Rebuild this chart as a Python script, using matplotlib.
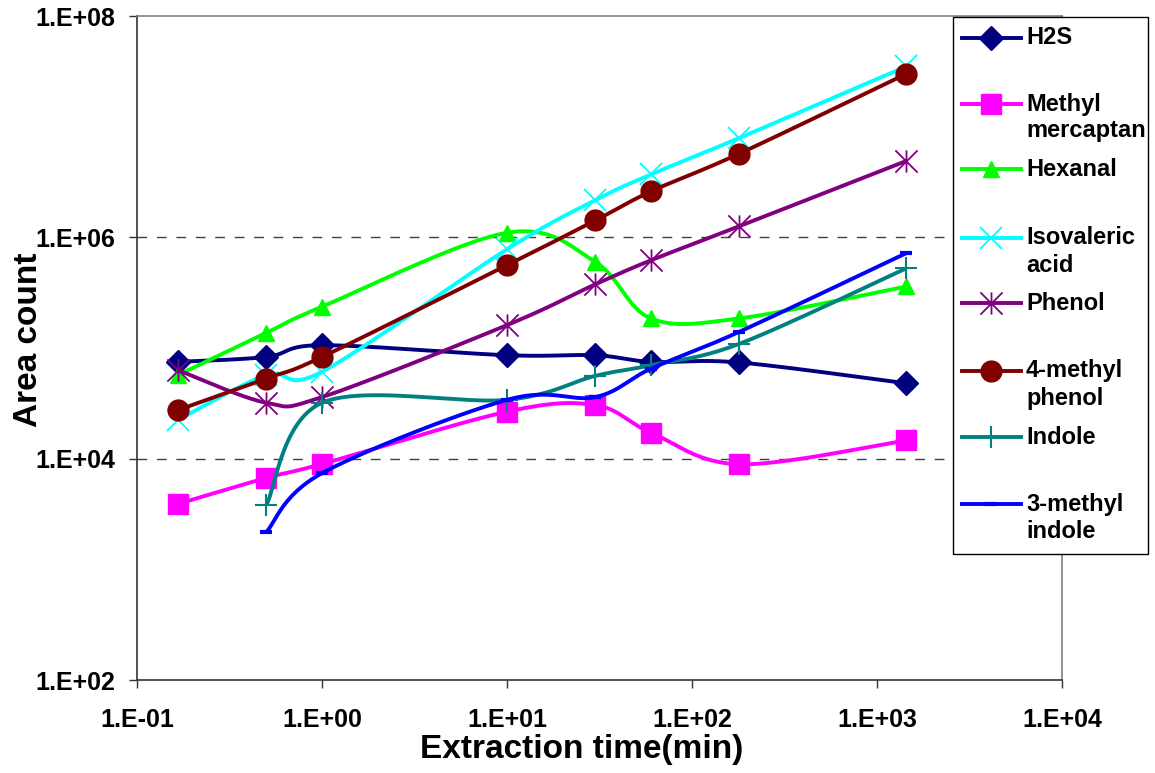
import numpy as np
import matplotlib
matplotlib.use("Agg")
import matplotlib.pyplot as plt
from matplotlib.path import Path
from matplotlib.lines import Line2D
from matplotlib.patches import Rectangle

plt.rcParams['font.family'] = ['Liberation Sans', 'DejaVu Sans']
plt.rcParams['font.weight'] = 'bold'

# extraction times (min)
times = [1 / 6, 0.5, 1, 10, 30, 60, 180, 1440]

# area counts
h2s = [7.5e4, 8.3e4, 1.06e5, 8.6e4, 8.6e4, 7.5e4, 7.4e4, 4.8e4]
methyl_mercaptan = [3.9e3, 6.7e3, 8.95e3, 2.66e4, 3.05e4, 1.72e4, 8.9e3, 1.46e4]
hexanal = [5.7e4, 1.37e5, 2.36e5, 1.10e6, 6.0e5, 1.85e5, 1.85e5, 3.6e5]
isovaleric_acid = [2.24e4, 5.7e4, 6.1e4, 7.8e5, 2.17e6, 3.7e6, 7.9e6, 3.5e7]
phenol = [6.3e4, 3.2e4, 3.6e4, 1.61e5, 3.76e5, 6.2e5, 1.26e6, 4.9e6]
methyl_phenol = [2.75e4, 5.3e4, 8.3e4, 5.6e5, 1.42e6, 2.6e6, 5.7e6, 3.0e7]
indole = [None, 3.8e3, 3.2e4, 3.4e4, 5.6e4, 7.0e4, 1.09e5, 5.25e5]
methyl_indole = [None, 2.17e3, 7.4e3, 3.4e4, 3.6e4, 6.5e4, 1.4e5, 7.2e5]

labels = ['H2S', 'Methyl\nmercaptan', 'Hexanal', 'Isovaleric\nacid', 'Phenol',
          '4-methyl\nphenol', 'Indole', '3-methyl\nindole']
series = [h2s, methyl_mercaptan, hexanal, isovaleric_acid, phenol,
          methyl_phenol, indole, methyl_indole]
colors = ['#000080', '#FF00FF', '#00FF00', '#00FFFF', '#800080',
          '#800000', '#008080', '#0000FF']

x_ticks = [1e-1, 1e0, 1e1, 1e2, 1e3, 1e4]
x_ticklabels = ['1.E-01', '1.E+00', '1.E+01', '1.E+02', '1.E+03', '1.E+04']
y_ticks = [1e2, 1e4, 1e6, 1e8]
y_ticklabels = ['1.E+02', '1.E+04', '1.E+06', '1.E+08']

# asterisk marker like excel's "star": vertical bar plus an x
star = Path([(0, -1), (0, 1), (-1, -1), (1, 1), (-1, 1), (1, -1)],
            [Path.MOVETO, Path.LINETO, Path.MOVETO, Path.LINETO, Path.MOVETO, Path.LINETO])

marker_styles = [
    dict(marker='D', markersize=12),
    dict(marker='s', markersize=14),
    dict(marker='^', markersize=11),
    dict(marker='x', markersize=16, markeredgewidth=1.3),
    dict(marker=star, markersize=16, markeredgewidth=1.3),
    dict(marker='o', markersize=15),
    dict(marker='+', markersize=16, markeredgewidth=1.5),
    dict(marker='_', markersize=8, markeredgewidth=3),
]


def smooth(xs, ys, n=24):
    # excel-like smoothed line: bezier segments, done in log space
    lx = np.log10(xs)
    ly = np.log10(ys)
    pts = np.column_stack([lx, ly])
    out = [pts[0]]
    for i in range(len(pts) - 1):
        p0 = pts[max(i - 1, 0)]
        p1 = pts[i]
        p2 = pts[i + 1]
        p3 = pts[min(i + 2, len(pts) - 1)]
        c1 = p1 + (p2 - p0) / 6
        c2 = p2 - (p3 - p1) / 6
        t = np.linspace(0, 1, n)[1:, None]
        seg = ((1 - t) ** 3) * p1 + 3 * ((1 - t) ** 2) * t * c1 + 3 * (1 - t) * t ** 2 * c2 + t ** 3 * p2
        out.extend(seg)
    out = np.array(out)
    return 10 ** out[:, 0], 10 ** out[:, 1]


W, H = 1155, 773
fig = plt.figure(figsize=(W / 100, H / 100), dpi=100)
ax = fig.add_axes([137 / W, (H - 680) / H, 925 / W, 664 / H])
ax.set_xscale('log')
ax.set_yscale('log')
ax.set_xlim(1e-1, 1e4)
ax.set_ylim(1e2, 1e8)

for yv in [1e4, 1e6]:
    ax.axhline(yv, color='#404040', lw=1, ls=(0, (7, 7)), zorder=1)

for i, (vals, col, ms) in enumerate(zip(series, colors, marker_styles)):
    xs = [t for t, v in zip(times, vals) if v is not None]
    ys = [v for v in vals if v is not None]
    sx, sy = smooth(xs, ys)
    ax.plot(sx, sy, color=col, lw=2.8, zorder=2 + i, solid_capstyle='butt')
    ax.plot(xs, ys, ls='none', color=col, markerfacecolor=col, markeredgecolor=col,
            zorder=2 + i, **ms)

ax.xaxis.set_major_locator(matplotlib.ticker.FixedLocator(x_ticks))
ax.xaxis.set_minor_locator(matplotlib.ticker.NullLocator())
ax.set_xticklabels(x_ticklabels)
ax.yaxis.set_major_locator(matplotlib.ticker.FixedLocator(y_ticks))
ax.yaxis.set_minor_locator(matplotlib.ticker.NullLocator())
ax.set_yticklabels(y_ticklabels)
ax.tick_params(axis='both', direction='out', length=6, width=1, color='#333333',
               labelsize=18)
ax.tick_params(axis='x', pad=14)
ax.tick_params(axis='y', pad=10)

for s in ['left', 'bottom']:
    ax.spines[s].set_color('#333333')
    ax.spines[s].set_linewidth(1.2)
for s in ['top', 'right']:
    ax.spines[s].set_color('#808080')
    ax.spines[s].set_linewidth(1.2)

ax.set_xlabel('Extraction time(min)', fontsize=24, fontweight='bold')
ax.set_ylabel('Area count', fontsize=24, fontweight='bold')
ax.xaxis.set_label_coords((582 - 137) / 925, -(734 - 680) / 664)
ax.yaxis.set_label_coords((44 - 137) / 925, (680 - 340) / 664)


# legend drawn by hand so the markers line up with the first text line
def fx(px):
    return px / W


def fy(py):
    return 1 - py / H


fig.patches.append(Rectangle((fx(953), fy(554)), fx(1148) - fx(953), fy(17) - fy(554),
                             transform=fig.transFigure, facecolor='white',
                             edgecolor='black', lw=1, zorder=20))
first_line = [38, 104, 169, 238, 303, 371, 437, 504]
for lab, col, ms, y0 in zip(labels, colors, marker_styles, first_line):
    fig.add_artist(Line2D([fx(962), fx(1021)], [fy(y0), fy(y0)], transform=fig.transFigure,
                          color=col, lw=2.8, zorder=21))
    fig.add_artist(Line2D([fx(991)], [fy(y0)], transform=fig.transFigure, ls='none',
                          color=col, markerfacecolor=col, markeredgecolor=col,
                          zorder=22, **ms))
    for k, line in enumerate(lab.split('\n')):
        fig.text(fx(1026), fy(y0 + 27 * k), line, fontsize=17, fontweight='bold',
                 va='center', ha='left', zorder=23)

fig.savefig('out.png', dpi=100)
